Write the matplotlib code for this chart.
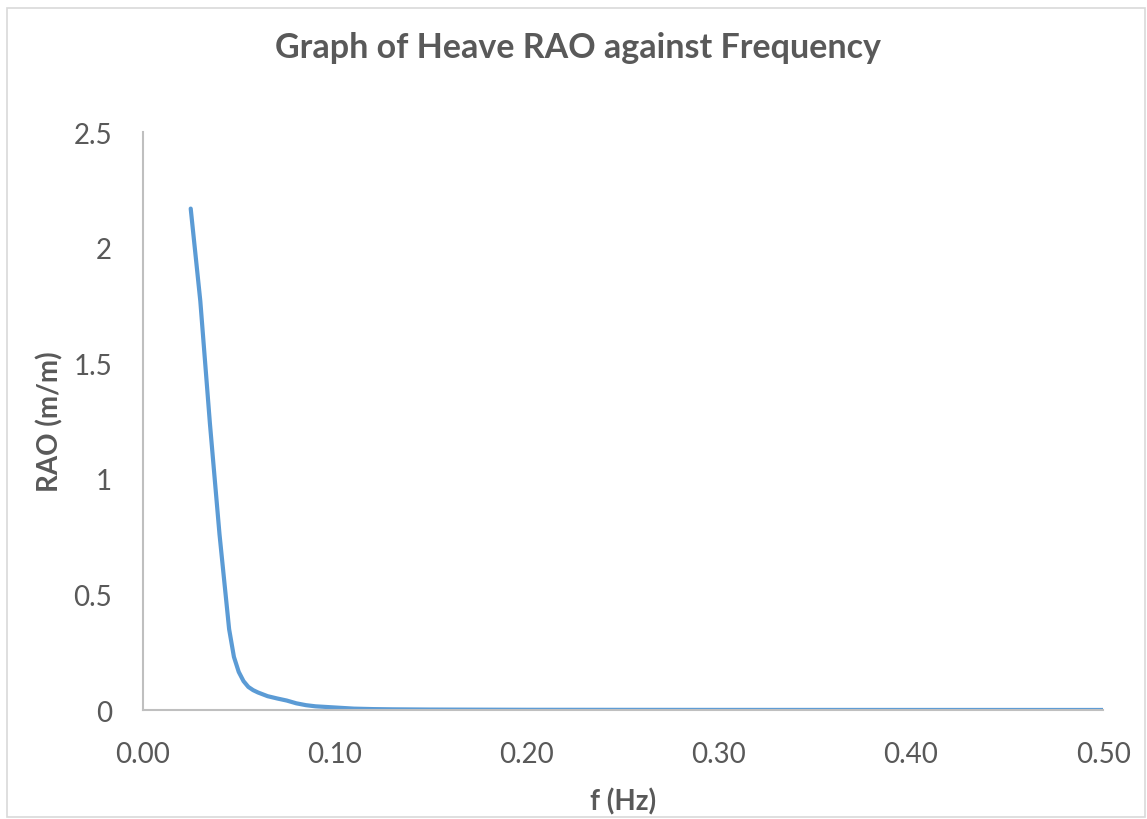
"""
Heave RAO against frequency, Excel-style line chart.
"""

import matplotlib.pyplot as plt
from matplotlib.patches import Rectangle

# frequency (Hz) and heave RAO (m/m)
freq = [0.025, 0.030, 0.035, 0.040, 0.045, 0.0475, 0.050, 0.0525, 0.055,
        0.0575, 0.060, 0.065, 0.070, 0.075, 0.080, 0.085, 0.090, 0.100,
        0.110, 0.120, 0.130, 0.150, 0.200, 0.300, 0.400, 0.500]
rao = [2.17, 1.77, 1.24, 0.76, 0.35, 0.23, 0.165, 0.125, 0.10,
       0.086, 0.076, 0.060, 0.050, 0.041, 0.029, 0.021, 0.016, 0.011,
       0.006, 0.004, 0.003, 0.002, 0.001, 0.0005, 0.0003, 0.0002]

x_ticks = [0.0, 0.1, 0.2, 0.3, 0.4, 0.5]
y_ticks = [0, 0.5, 1, 1.5, 2, 2.5]
y_labels = ['0', '0.5', '1', '1.5', '2', '2.5']

text_col = '#595959'
axis_col = '#BFBFBF'
line_col = '#5B9BD5'

plt.rcParams['font.family'] = ['Lato', 'DejaVu Sans']

fig = plt.figure(figsize=(11.47, 8.2), dpi=100)
fig.patches.append(Rectangle((7 / 1147, 2 / 820), 1138 / 1147, 809 / 820,
                             transform=fig.transFigure, fill=False,
                             edgecolor='#D9D9D9', linewidth=1.2))

ax = fig.add_axes([0.1244, 0.1329, 0.8373, 0.7045])
ax.plot(freq, rao, color=line_col, linewidth=3.0, solid_capstyle='round',
        solid_joinstyle='round')

ax.set_xlim(0, 0.5)
ax.set_ylim(0, 2.5)
ax.set_xticks(x_ticks)
ax.set_xticklabels([f'{t:.2f}' for t in x_ticks])
ax.set_yticks(y_ticks)
ax.set_yticklabels(y_labels)
ax.tick_params(length=0, labelsize=20, colors=text_col)
ax.tick_params(axis='x', pad=22)
ax.tick_params(axis='y', pad=22)

for side in ['top', 'right']:
    ax.spines[side].set_visible(False)
for side in ['left', 'bottom']:
    ax.spines[side].set_color(axis_col)
    ax.spines[side].set_linewidth(1.5)

ax.set_xlabel('f (Hz)', fontsize=20, fontweight='bold', color=text_col,
              labelpad=15)
ax.set_ylabel('RAO (m/m)', fontsize=20, fontweight='bold', color=text_col,
              labelpad=7)
fig.text(0.5035, 0.941, 'Graph of Heave RAO against Frequency', fontsize=24.5,
         fontweight='bold', color=text_col, ha='center', va='center')

plt.savefig('out.png', dpi=100)
plt.close()
